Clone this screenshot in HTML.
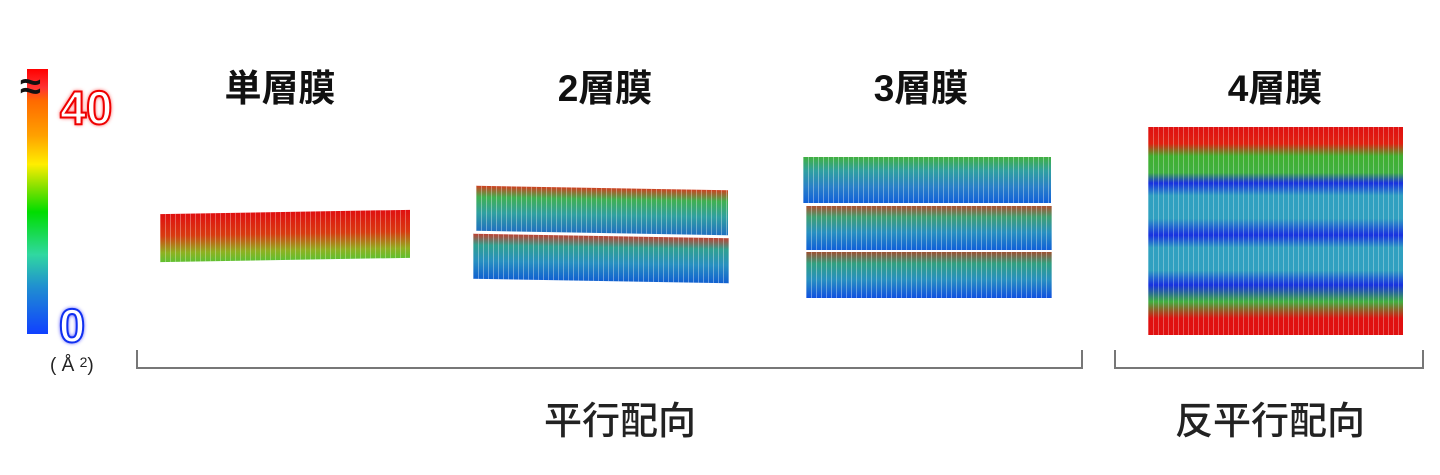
<!DOCTYPE html>
<html><head><meta charset="utf-8"><style>
body{margin:0;width:1440px;height:475px;background:#fff;position:relative;overflow:hidden;font-family:"Liberation Sans","Noto Sans CJK JP",sans-serif}
.a{position:absolute}
.t{position:absolute;font-size:37px;font-weight:bold;color:#111;transform:translateX(-50%);white-space:nowrap}
.l{position:absolute;font-size:38px;font-weight:500;color:#222;transform:translateX(-50%);white-space:nowrap}
</style></head><body>
<div class="a" style="left:27px;top:69px;width:21px;height:265px;background:linear-gradient(#f00 0%,#f33 7%,#ff6a00 12%,#ffa000 25%,#ffee00 36%,#80e000 45%,#00dd00 54%,#30d8a0 70%,#2090d0 82%,#1040ff 100%)"></div>
<div class="a" style="left:20px;top:66px;font-size:38px;font-weight:bold;color:#111">≈</div>
<div class="a" style="left:60px;top:80px;font-size:47px;font-weight:bold;color:#fff;-webkit-text-stroke:2px #e00;text-shadow:0 0 4px #f00">40</div>
<div class="a" style="left:59px;top:298px;font-size:47px;font-weight:bold;color:#fff;-webkit-text-stroke:2px #1030f0;text-shadow:0 0 4px #00f">0</div>
<div class="a" style="left:50px;top:354px;font-size:19px;color:#222">( Å <span style="font-size:14px;vertical-align:4px">2</span>)</div>

<div class="t" style="left:280px;top:58px">単層膜</div>
<div class="t" style="left:605px;top:58px">2層膜</div>
<div class="t" style="left:921px;top:58px">3層膜</div>
<div class="t" style="left:1275px;top:58px">4層膜</div>

<div class="a" style="left:160px;top:212px;width:250px;height:48px;background:repeating-linear-gradient(90deg,rgba(255,255,255,.3) 0 1px,transparent 1px 5px),linear-gradient(#e01010,#d83a10 45%,#90b020 80%,#60c030);transform:skewY(-1deg)"></div>

<div class="a" style="left:476px;top:188px;width:252px;height:45px;background:repeating-linear-gradient(90deg,rgba(255,255,255,.35) 0 1px,transparent 1px 5px),linear-gradient(#d04020,#40b050 25%,#30a0a0 60%,#2070c0);transform:skewY(1deg)"></div>
<div class="a" style="left:473px;top:236px;width:256px;height:45px;background:repeating-linear-gradient(90deg,rgba(255,255,255,.35) 0 1px,transparent 1px 5px),linear-gradient(#c04030,#30a090 25%,#2890c0 60%,#1060d0);transform:skewY(1deg)"></div>

<div class="a" style="left:803px;top:157px;width:248px;height:46px;background:repeating-linear-gradient(90deg,rgba(255,255,255,.35) 0 1px,transparent 1px 5px),linear-gradient(#40b040,#30a0a0 30%,#2a80c8 65%,#1060d8)"></div>
<div class="a" style="left:806px;top:206px;width:246px;height:44px;background:repeating-linear-gradient(90deg,rgba(255,255,255,.35) 0 1px,transparent 1px 5px),linear-gradient(#b05030,#40a070 25%,#2890c0 60%,#1060d8)"></div>
<div class="a" style="left:806px;top:252px;width:246px;height:46px;background:repeating-linear-gradient(90deg,rgba(255,255,255,.35) 0 1px,transparent 1px 5px),linear-gradient(#a05030,#30a080 25%,#2890c0 60%,#1050e0)"></div>

<div class="a" style="left:1148px;top:127px;width:255px;height:208px;background:repeating-linear-gradient(90deg,rgba(255,255,255,.3) 0 1px,transparent 1px 5px),linear-gradient(#e01010 0%,#e02010 8%,#40b030 14%,#40b040 22%,#1830e0 27%,#30a0c0 33%,#30a0c0 44%,#1830e0 52%,#30a0c0 58%,#30a0c0 69%,#1830e0 76%,#40b040 84%,#e01010 92%,#e01010 100%)"></div>

<svg class="a" style="left:0;top:0" width="1440" height="475">
<path d="M137 350V368H1082V350M1115 350V368H1423V350" fill="none" stroke="#777" stroke-width="2"/>
</svg>
<div class="l" style="left:620px;top:390px">平行配向</div>
<div class="l" style="left:1270px;top:390px">反平行配向</div>
</body></html>
